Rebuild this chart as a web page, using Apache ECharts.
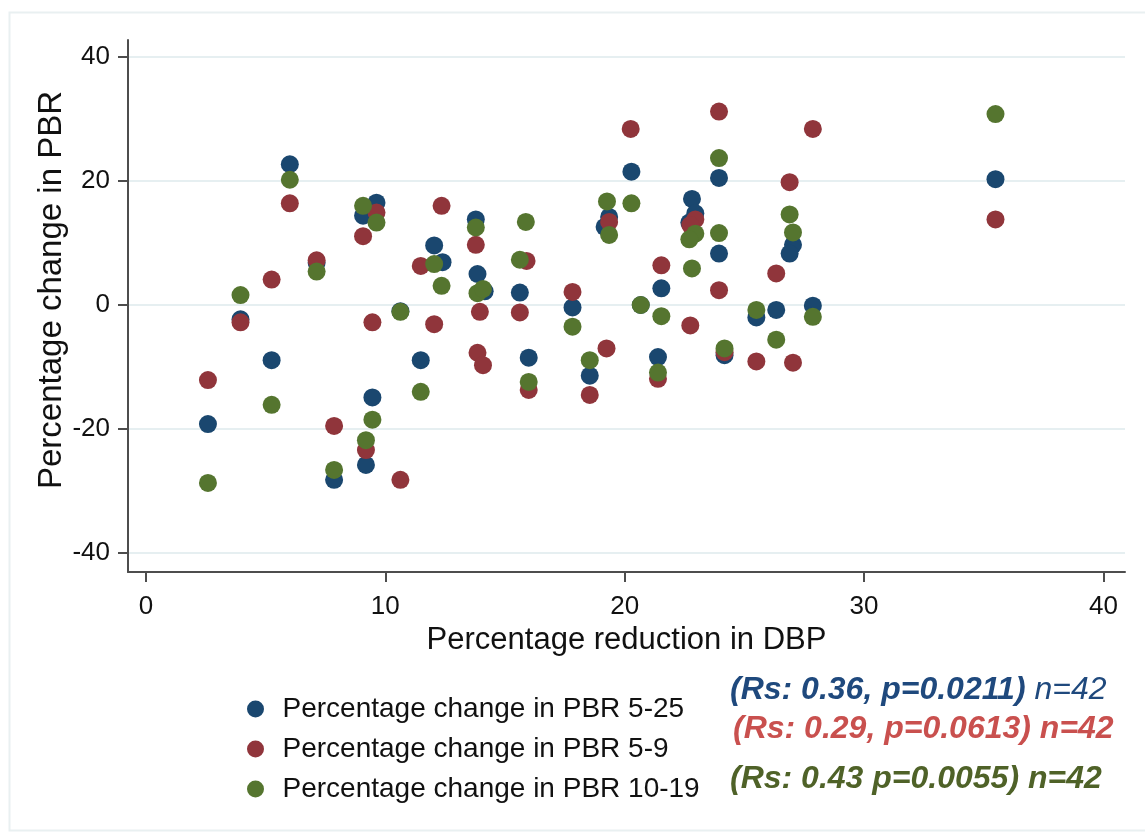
<!DOCTYPE html>
<html>
<head>
<meta charset="utf-8">
<script src="https://cdn.jsdelivr.net/npm/echarts@6/dist/echarts.min.js"></script>
<style>
html,body{margin:0;padding:0;background:#fff;}
#chart{width:1145px;height:836px;}
</style>
</head>
<body>
<div id="chart"></div>
<script>
// Tick labels
const xTicks = [0, 10, 20, 30, 40];
const yTicks = [-40, -20, 0, 20, 40];

// Series names
const seriesNames = [
  'Percentage change in PBR 5-25',
  'Percentage change in PBR 5-9',
  'Percentage change in PBR 10-19'
];

// Percentage reduction in DBP (x) and percentage change in PBR (y), per series
const blueX = [2.59,3.95,5.25,6.01,7.13,7.86,9.07,9.63,9.46,9.19,10.63,11.48,12.04,12.39,13.78,13.85,14.15,15.62,15.99,17.82,18.54,19.35,19.16,20.28,21.53,21.39,22.81,22.95,22.70,23.94,23.94,24.17,25.50,26.33,27.03,26.89,27.86,35.49,20.67];
const blueY = [-19.2,-2.3,-8.9,22.7,6.8,-28.2,14.4,16.5,-14.9,-25.8,-1.0,-8.9,9.6,6.9,13.8,5.0,2.2,2.0,-8.5,-0.4,-11.4,14.2,12.6,21.5,2.7,-8.4,17.1,14.8,13.3,20.5,8.3,-8.1,-2.0,-0.8,9.7,8.3,-0.1,20.3,0.0];

const redX = [2.59,3.95,5.25,6.01,7.13,7.86,9.07,9.63,9.46,9.19,10.63,11.48,12.04,12.35,13.78,13.85,13.95,14.08,15.90,15.62,15.99,17.82,18.54,19.24,19.35,20.25,21.53,21.39,22.95,22.74,22.74,23.94,23.94,24.17,25.50,26.33,26.89,27.03,27.86,35.49];
const redY = [-12.1,-2.8,4.1,16.4,7.2,-19.5,11.1,14.9,-2.8,-23.4,-28.2,6.3,-3.1,16.0,9.7,-7.7,-1.1,-9.7,7.1,-1.2,-13.7,2.1,-14.5,-7.0,13.4,28.4,6.4,-11.9,13.8,12.9,-3.3,31.2,2.4,-7.6,-9.1,5.1,19.8,-9.3,28.4,13.8];

const greenX = [2.59,3.95,5.25,6.01,7.13,7.86,9.07,9.63,9.46,9.19,10.63,11.48,12.04,12.35,13.78,13.85,14.08,15.87,15.62,15.99,17.82,18.54,19.26,19.35,20.28,20.67,21.53,21.39,22.95,22.70,22.81,23.94,23.94,24.17,25.50,26.33,26.89,27.03,27.86,35.49];
const greenY = [-28.7,1.6,-16.1,20.2,5.4,-26.6,16.0,13.3,-18.5,-21.8,-1.1,-14.0,6.6,3.1,12.5,1.9,2.6,13.4,7.3,-12.4,-3.5,-8.9,16.7,11.3,16.4,0.0,-1.8,-10.9,11.5,10.6,5.9,23.7,11.6,-7.0,-0.8,-5.6,14.6,11.7,-1.9,30.8];

const colors = ['#1a476f', '#90353b', '#55752f'];

function pairs(xs, ys) { return xs.map((x, i) => [x, ys[i]]); }

const FONT = '"Liberation Sans", Arial, sans-serif';
const chart = echarts.init(document.getElementById('chart'), null, {renderer: 'canvas'});

const axisLineStyle = {color: '#4d4d4d', width: 2};

chart.setOption({
  animation: false,
  backgroundColor: '#ffffff',
  color: colors,
  grid: {left: 128, right: 20, top: 40, bottom: 264, containLabel: false},
  xAxis: {
    type: 'value',
    min: -0.75, max: 40.9,
    name: 'Percentage reduction in DBP',
    nameLocation: 'middle',
    nameGap: 47,
    nameTextStyle: {fontFamily: FONT, fontSize: 31, color: '#111'},
    axisLine: {show: true, onZero: false, lineStyle: axisLineStyle},
    axisTick: {show: true, length: 10, lineStyle: axisLineStyle, customValues: xTicks},
    axisLabel: {margin: 22, fontFamily: FONT, fontSize: 26, color: '#111', customValues: xTicks},
    splitLine: {show: false}
  },
  yAxis: {
    type: 'value',
    min: -43.06, max: 42.74,
    name: 'Percentage change in PBR',
    nameLocation: 'middle',
    nameGap: 60,
    nameMoveOverlap: false,
    nameRotate: 90,
    nameTextStyle: {fontFamily: FONT, fontSize: 33, color: '#111', padding: [0, 0, 0, 32]},
    axisLine: {show: true, onZero: false, lineStyle: axisLineStyle},
    axisTick: {show: true, length: 10, lineStyle: axisLineStyle, customValues: yTicks},
    axisLabel: {margin: 18, fontFamily: FONT, fontSize: 26, color: '#111', customValues: yTicks},
    splitLine: {show: true, lineStyle: {color: '#e6eff1', width: 2}}
  },
  legend: {
    orient: 'vertical',
    left: 242,
    top: 688,
    icon: 'circle',
    itemWidth: 44,
    itemHeight: 17,
    itemGap: 8,
    textStyle: {fontFamily: FONT, fontSize: 28, color: '#111', lineHeight: 32},
    data: seriesNames
  },
  series: [
    {name: seriesNames[0], type: 'scatter', symbol: 'circle', symbolSize: 18, data: pairs(blueX, blueY), itemStyle: {color: colors[0], opacity: 1}, z: 2},
    {name: seriesNames[1], type: 'scatter', symbol: 'circle', symbolSize: 18, data: pairs(redX, redY), itemStyle: {color: colors[1], opacity: 1}, z: 3},
    {name: seriesNames[2], type: 'scatter', symbol: 'circle', symbolSize: 18, data: pairs(greenX, greenY), itemStyle: {color: colors[2], opacity: 1}, z: 4}
  ],
  graphic: [
    {type: 'rect', left: 7, top: 10, shape: {width: 1150, height: 818}, style: {fill: 'none', stroke: '#e9f0f1', lineWidth: 2}, silent: true, z: -1},
    {type: 'text', left: 730, top: 674, style: {
      text: '{b|(Rs: 0.36, p=0.0211)}{n| n=42}',
      rich: {
        b: {fontFamily: FONT, fontSize: 32, fontWeight: 'bold', fontStyle: 'italic', fill: '#1f497d'},
        n: {fontFamily: FONT, fontSize: 32, fontStyle: 'italic', fill: '#1f497d'}
      }
    }},
    {type: 'text', left: 733, top: 713, style: {
      text: '(Rs: 0.29, p=0.0613) n=42',
      fontFamily: FONT, fontSize: 32, fontWeight: 'bold', fontStyle: 'italic', fill: '#c9504e'
    }},
    {type: 'text', left: 730, top: 763, style: {
      text: '(Rs: 0.43 p=0.0055) n=42',
      fontFamily: FONT, fontSize: 32, fontWeight: 'bold', fontStyle: 'italic', fill: '#4f6228'
    }}
  ]
});
</script>
</body>
</html>
